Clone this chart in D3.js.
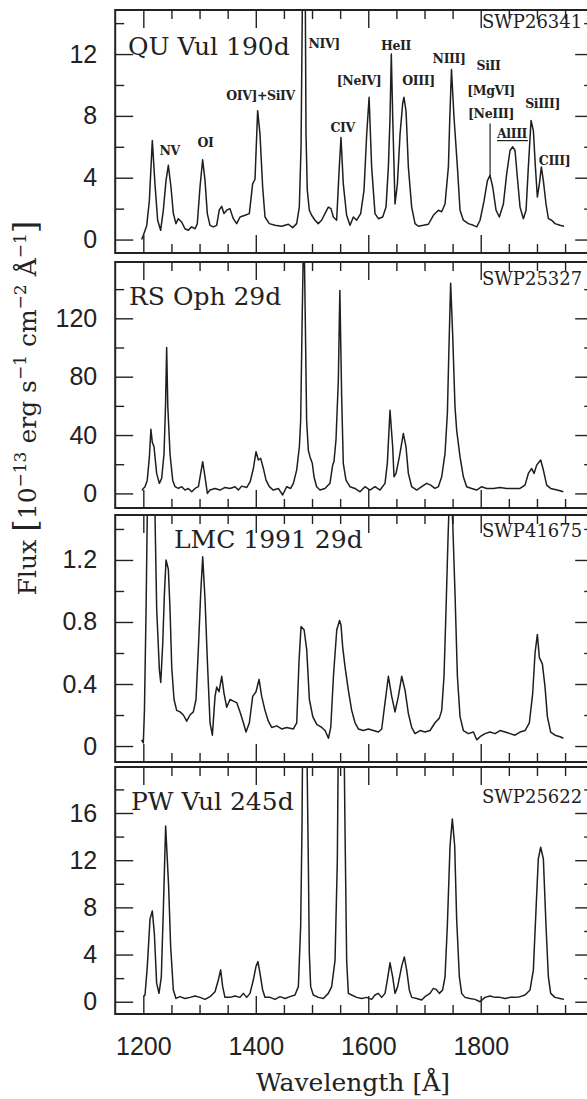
<!DOCTYPE html>
<html>
<head>
<meta charset="utf-8">
<script src="https://cdn.jsdelivr.net/npm/d3@7"></script>
<style>
  body { margin: 0; background: #fff; }
  .tick text { font-family: "Liberation Sans", Arial, sans-serif; font-size: 25px; fill: #222; }
  .tick line { stroke: #222; stroke-width: 1.4; }
</style>
</head>
<body>
<svg id="chart" width="587" height="1099"></svg>
<script>
/*global d3*/
// spectra, [wavelength (A), flux]
const quVul = [[1197,0.0],[1200,0.28],[1206,0.9],[1210.7,2.5],[1216,6.4],[1220.7,3.6],[1225.5,1.25],[1230.8,0.6],[1235.6,1.9],[1240.3,3.8],[1244.5,4.8],[1249.2,3.4],[1253.3,1.7],[1258,1.03],[1262.2,1.35],[1268,1.14],[1274,0.7],[1280,0.6],[1286,0.82],[1292,0.7],[1296,1.03],[1300.8,3.4],[1305.5,5.16],[1309.7,3.83],[1313.8,1.68],[1318.6,0.92],[1324.5,0.82],[1330.4,0.92],[1335,1.9],[1339.3,2.15],[1343.4,1.68],[1348.2,1.9],[1354,2.0],[1360,1.35],[1366,1.03],[1372,1.46],[1380.8,1.57],[1388.5,1.68],[1394.4,3.6],[1398.6,3.9],[1403.3,8.34],[1407.5,6.8],[1412.2,3.4],[1416.4,1.46],[1424,1.03],[1434,0.92],[1446,0.86],[1458,0.99],[1465.6,0.77],[1472.7,1.03],[1477.4,2.1],[1480.5,6],[1483,16],[1485.5,20],[1488,16],[1489.3,6.8],[1491.6,3.2],[1495.2,1.9],[1499.3,1.57],[1505.3,1.25],[1511,1.03],[1517,1.25],[1523,1.68],[1529,2.1],[1533.7,2.0],[1537.9,1.46],[1543.8,1.25],[1548.5,4.7],[1551.5,6.6],[1555.6,3.6],[1561.5,1.57],[1567.6,0.92],[1573.5,1.46],[1579.4,1.25],[1586.5,1.68],[1592.5,3.2],[1597.2,6.8],[1601.5,9.2],[1606,4.7],[1612,1.68],[1618,1.35],[1625.7,1.46],[1631.6,2.1],[1635.8,4.7],[1638.7,7.9],[1641,12.0],[1643.5,7.9],[1647.6,2.3],[1651.8,3.6],[1656.5,6.8],[1661.2,8.8],[1663.5,9.2],[1667.2,8.3],[1671.3,4.7],[1677.2,2.1],[1683.2,1.03],[1689.1,0.86],[1698,0.92],[1706.9,0.99],[1715.8,1.57],[1724.7,1.9],[1730.6,1.8],[1736.5,2.3],[1742.5,4.7],[1745,7.9],[1748,11.0],[1752.5,7.9],[1758.5,4.7],[1763.2,1.9],[1769.1,1.25],[1778,1.03],[1786.9,0.92],[1792.9,0.82],[1798.8,1.25],[1805.9,2.5],[1811.8,3.8],[1816.5,4.15],[1821.3,3.4],[1827.2,1.9],[1833.1,1.46],[1840.3,2.3],[1846.2,4.26],[1852.1,5.76],[1856.9,6.0],[1861,5.76],[1865.2,4.0],[1869.9,2.1],[1875.8,1.35],[1880.6,1.9],[1884.7,4.7],[1889.5,7.7],[1893.6,7.05],[1897.2,4.7],[1900.7,2.75],[1904.3,3.6],[1907.8,4.7],[1911.4,3.8],[1916.1,2.3],[1920.3,1.35],[1926.2,1.25],[1932.1,1.03],[1941,0.92],[1948.1,0.86]]

const rsOph = [[1198,2],[1200,3.4],[1203,4.6],[1207,9.1],[1210.8,25],[1213.5,44],[1216,35],[1219,32],[1223.7,13.7],[1228.5,6.9],[1232.6,10.3],[1236.8,27],[1239.5,60],[1241.5,100],[1243.5,60],[1247.5,27],[1252.2,9.1],[1256.4,4.6],[1262.3,3.4],[1268.3,4.6],[1274,2.3],[1280,3.4],[1286,1.1],[1292,3.4],[1298,4.6],[1302,13.7],[1305.6,21.7],[1309.7,11.4],[1313.9,0],[1318.6,2.3],[1327.5,3.4],[1336.4,2.3],[1345.3,4.1],[1354.2,3.4],[1363.1,4.6],[1369,2.3],[1375,5],[1384,4.1],[1390,8],[1395.7,17.1],[1400.4,28.6],[1404.6,22.9],[1408.7,24],[1413.5,17.1],[1418.2,9.1],[1424.1,4.6],[1431.2,2.3],[1440.1,3.4],[1447.8,-1.1],[1455,4.6],[1462,3.4],[1466.8,6.9],[1472.7,16],[1477.5,32],[1479.8,50],[1482.5,120],[1485.5,190],[1488,120],[1490.4,50],[1493.4,29.7],[1496.4,25],[1500.5,20.6],[1503.5,11.4],[1508.2,4.6],[1514.1,2.3],[1523,3.4],[1531.9,6.9],[1536.7,19.4],[1539,21.7],[1542.6,36.6],[1546.8,77.7],[1549.5,139],[1552.7,66],[1555.6,20.6],[1560.4,9.1],[1567.5,4.6],[1576.4,3.4],[1585.3,1.1],[1594.2,4.6],[1603.1,2.3],[1612,4.6],[1620.9,2.3],[1629.8,6.9],[1633.9,20.6],[1638.7,57],[1643.4,32],[1645.8,11.4],[1649.4,13.7],[1655.3,25],[1662.4,41],[1667.1,32],[1671.3,13.7],[1677.2,4.6],[1686.1,2.3],[1695,4.6],[1703.9,6.9],[1711,5.7],[1718.7,3.4],[1724.7,4.6],[1730.6,11.4],[1736.5,27.4],[1740.7,55],[1743.5,100],[1746.5,144],[1750,110],[1754.3,59],[1757.3,43],[1763.2,25],[1769.1,11.4],[1775,4.6],[1783.9,3.4],[1792.8,2.3],[1801.7,4.6],[1810.6,3.4],[1822.5,3.4],[1834.3,4.1],[1846.2,3.4],[1858,3.4],[1869.9,3.4],[1878.8,5.7],[1884.7,13.7],[1890.6,17.1],[1894.8,13.7],[1899.5,19.4],[1906.6,22.9],[1911.4,16],[1917.3,5.7],[1924.4,3.4],[1932.1,2.7],[1941,1.8],[1947,1.1]]

const lmc1991 = [[1197,0.04],[1200,0.02],[1202,0.23],[1204.9,0.88],[1207,1.48],[1210,2.2],[1215,2.5],[1219,2.0],[1220.9,1.46],[1223.8,0.88],[1228.6,0.49],[1231,0.41],[1234.5,0.66],[1237.5,0.98],[1240.4,1.2],[1244.5,1.14],[1247.5,0.88],[1250.5,0.51],[1254.6,0.30],[1259.3,0.23],[1265.3,0.22],[1271.2,0.2],[1277.1,0.16],[1283,0.2],[1288.9,0.22],[1293.7,0.30],[1297.8,0.62],[1302,0.98],[1305.6,1.22],[1309.8,0.94],[1313.9,0.55],[1318.6,0.15],[1322.8,0.07],[1327.5,0.32],[1330.5,0.38],[1334.6,0.35],[1339.4,0.45],[1343.5,0.34],[1348.3,0.25],[1354.2,0.30],[1360.1,0.29],[1366,0.28],[1372,0.22],[1377.9,0.15],[1382.6,0.09],[1388.6,0.15],[1394.5,0.32],[1400.4,0.35],[1405.8,0.43],[1410.5,0.32],[1416.4,0.23],[1422.3,0.16],[1428.3,0.12],[1437.2,0.13],[1446,0.11],[1455,0.12],[1466.8,0.11],[1472.8,0.15],[1476.9,0.55],[1480.5,0.77],[1485.9,0.75],[1490.6,0.62],[1495.3,0.30],[1501.3,0.19],[1508.4,0.14],[1517.3,0.12],[1523.2,0.10],[1529.2,0.05],[1533.3,0.12],[1538.1,0.45],[1544,0.75],[1549,0.81],[1551.5,0.78],[1554.5,0.64],[1558.7,0.51],[1564.6,0.36],[1570.5,0.23],[1576.5,0.15],[1582.4,0.11],[1591.3,0.10],[1600.2,0.11],[1609.1,0.10],[1618,0.09],[1623.9,0.11],[1629.8,0.28],[1635.8,0.45],[1641.7,0.32],[1647.6,0.22],[1653.5,0.32],[1659.5,0.45],[1665.4,0.36],[1671.3,0.21],[1677.2,0.12],[1683.2,0.08],[1692.1,0.10],[1701,0.09],[1709.9,0.10],[1718.7,0.15],[1726.4,0.18],[1730.6,0.23],[1734.7,0.45],[1738.3,0.88],[1741.9,1.35],[1746,1.8],[1750.2,1.44],[1754.3,0.98],[1758.5,0.45],[1763.2,0.19],[1769.1,0.10],[1778,0.08],[1787,0.09],[1792.9,0.04],[1798.8,0.06],[1807.6,0.08],[1816.5,0.09],[1825.4,0.08],[1834.3,0.10],[1843.2,0.09],[1852.1,0.08],[1861,0.07],[1869.9,0.09],[1878.8,0.10],[1886.5,0.15],[1892.4,0.34],[1896.6,0.60],[1900.7,0.72],[1904.3,0.57],[1909.6,0.53],[1914.4,0.38],[1918.5,0.19],[1924.4,0.09],[1932.1,0.07],[1941,0.06],[1947,0.05]]

const pwVul = [[1200,0.43],[1203,0.57],[1207.1,3.0],[1211.9,7.0],[1216,7.7],[1219.6,5.8],[1223.7,1.56],[1227.9,0.71],[1232,2.1],[1235.6,7.8],[1239.7,14.9],[1242.1,12.6],[1245,9.8],[1248.6,4.7],[1253.4,1.0],[1258.1,0.28],[1265.2,0.43],[1274.1,0.28],[1283,0.37],[1291.9,0.48],[1300.8,0.37],[1309.7,0.2],[1318.6,0.43],[1327.5,0.85],[1333.4,1.84],[1337.5,2.7],[1341.1,1.28],[1345.2,0.37],[1354.1,0.37],[1363,0.48],[1371.9,0.37],[1377.8,0.71],[1383.8,0.37],[1389.7,0.71],[1395.6,1.84],[1400.4,3.0],[1403.9,3.4],[1407.5,2.4],[1412.2,1.0],[1416.4,0.37],[1425.3,0.37],[1434.2,0.2],[1443.1,0.43],[1452,0.28],[1460.8,0.43],[1469.7,0.57],[1475.7,1.28],[1479.8,6.4],[1482.2,14.9],[1486,40],[1490,25],[1493.4,12],[1495.2,4.1],[1497.6,1.28],[1502.3,0.57],[1511.2,0.37],[1520.1,0.28],[1529,0.71],[1534.9,1.28],[1540.9,3.5],[1545,12],[1549,35],[1554,35],[1558.6,14.9],[1561.6,3.5],[1564.6,0.71],[1570.5,0.57],[1579.4,0.37],[1588.3,0.28],[1597.2,0.37],[1606,0.2],[1612,0.57],[1617.9,0.71],[1623.8,0.37],[1629.8,0.71],[1633.9,1.84],[1638.7,3.3],[1643.4,2.1],[1647.6,0.71],[1652.3,1.28],[1659.4,3.0],[1664.1,3.8],[1668.3,2.7],[1673,1.0],[1677.2,0.37],[1686.1,0.28],[1695,0.14],[1700.9,0.43],[1709.8,0.71],[1715.7,1.13],[1720.5,1.05],[1726.4,0.71],[1732.3,1.0],[1736.5,2.1],[1740.6,6.4],[1745.4,13.2],[1749.5,15.5],[1753.7,13.2],[1757.2,7.0],[1762,2.1],[1766.1,0.71],[1772,0.37],[1780.9,0.28],[1789.8,0.2],[1798.7,0],[1807.6,0.37],[1816.5,0.48],[1825.4,0.37],[1834.3,0.37],[1843.2,0.28],[1852.1,0.37],[1861,0.37],[1869.9,0.43],[1878.8,0.57],[1887.7,1.0],[1893.6,2.7],[1898.3,7.8],[1902.4,12.1],[1906.6,13.1],[1911.4,12.1],[1916.1,6.4],[1920.3,2.1],[1924.4,0.71],[1932.1,0.37],[1941,0.28],[1948.1,0.2]]

const novaNames = ["QU Vul 190d", "RS Oph 29d", "LMC 1991 29d", "PW Vul 245d"]
const swpIds = ["SWP26341", "SWP25327", "SWP41675", "SWP25622"]
const yDomains = [[-0.87, 14.85], [-10, 158.6], [-0.103, 1.49], [-1.04, 19.9]]
const yMajor = [[0, 4, 8, 12], [0, 40, 80, 120], [0, 0.4, 0.8, 1.2], [0, 4, 8, 12, 16]]
const yMinor = [[2, 6, 10, 14], [20, 60, 100, 140], [0.2, 0.6, 1.0, 1.4], [2, 6, 10, 14, 18]]
const xMajor = [1200, 1400, 1600, 1800]
const xMinor = [1250, 1300, 1350, 1450, 1500, 1550, 1650, 1700, 1750, 1850, 1900, 1950]

// line identifications in the top panel: [text, wavelength, flux]
const lineIds = [["NV", 1247, 5.47], ["OI", 1310.6, 6.0], ["OIV]+SiIV", 1408.4, 9.03], ["NIV]", 1521.4, 12.39],
  ["CIV", 1554.3, 6.98], ["[NeIV]", 1583.6, 9.99], ["HeII", 1649.4, 12.26], ["OIII]", 1689.4, 9.99],
  ["NIII]", 1743.7, 11.42], ["SiII", 1813.9, 10.97], ["[MgVI]", 1818.4, 9.35], ["[NeIII]", 1818.4, 7.86],
  ["SiIII]", 1910, 8.51], ["AlIII", 1855.7, 6.57], ["CIII]", 1931.3, 4.82]]

const spectra = [quVul, rsOph, lmc1991, pwVul]

//panel boxes, top and bottom
const panelBox = [[10, 253], [262, 508], [515, 762], [767, 1014]]
const nameXY = [[128, 55], [129, 305], [174, 548], [131, 810]]
const swpY = [28, 285, 537, 803]

const svg = d3.select("#chart")
const x = d3.scaleLinear().domain([1150, 2000]).range([115.2, 593.2])

const MAJ = 18, MIN = 9

spectra.forEach((spec, i) => {
  const [top, bot] = panelBox[i]
  const y = d3.scaleLinear().domain(yDomains[i]).range([bot, top])
  const g = svg.append("g")

  g.append("clipPath").attr("id", "clip" + i)
    .append("rect").attr("x", x.range()[0]).attr("y", top)
    .attr("width", x.range()[1] - x.range()[0]).attr("height", bot - top)

  // spectrum
  g.append("path")
    .datum(spec)
    .attr("clip-path", "url(#clip" + i + ")")
    .attr("fill", "none")
    .attr("stroke", "#1e1e1e")
    .attr("stroke-width", 1.5)
    .attr("stroke-linejoin", "round")
    .attr("d", d3.line().x(d => x(d[0])).y(d => y(d[1])))

  // x ticks, bottom and top
  const xb = g.append("g").attr("transform", `translate(0,${bot})`)
  xb.call(d3.axisBottom(x).tickValues(xMajor).tickSize(-MAJ).tickPadding(23.5)
    .tickFormat(i === 3 ? (d => d) : ""))
  xb.append("g").call(d3.axisBottom(x).tickValues(xMinor).tickSize(-MIN).tickFormat(""))
  const xt = g.append("g").attr("transform", `translate(0,${top})`)
  xt.call(d3.axisTop(x).tickValues(xMajor).tickSize(-MAJ).tickFormat(""))
  xt.append("g").call(d3.axisTop(x).tickValues(xMinor).tickSize(-MIN).tickFormat(""))

  // y ticks, left and right
  const yl = g.append("g").attr("transform", `translate(${x.range()[0]},0)`)
  yl.call(d3.axisLeft(y).tickValues(yMajor[i]).tickSize(-MAJ).tickPadding(18).tickFormat(d => d))
  yl.append("g").call(d3.axisLeft(y).tickValues(yMinor[i]).tickSize(-MIN).tickFormat(""))
  const yr = g.append("g").attr("transform", `translate(${x.range()[1]},0)`)
  yr.call(d3.axisRight(y).tickValues(yMajor[i]).tickSize(-MAJ).tickFormat(""))
  yr.append("g").call(d3.axisRight(y).tickValues(yMinor[i]).tickSize(-MIN).tickFormat(""))
  g.selectAll(".domain").remove()

  // frame
  g.append("rect")
    .attr("x", x.range()[0]).attr("y", top)
    .attr("width", x.range()[1] - x.range()[0]).attr("height", bot - top)
    .attr("fill", "none").attr("stroke", "#222").attr("stroke-width", 2)

  g.append("text")
    .attr("x", nameXY[i][0]).attr("y", nameXY[i][1])
    .attr("font-family", "DejaVu Serif").attr("font-size", 25).attr("fill", "#222")
    .text(novaNames[i])

  g.append("text")
    .attr("x", 482).attr("y", swpY[i])
    .attr("font-family", "DejaVu Serif").attr("font-size", 18).attr("fill", "#222")
    .text(swpIds[i])

  if (i === 0) {
    g.selectAll("text.lineid")
      .data(lineIds)
      .join("text")
      .attr("class", "lineid")
      .attr("x", d => x(d[1]))
      .attr("y", d => y(d[2]))
      .attr("text-anchor", "middle")
      .attr("font-family", "DejaVu Serif")
      .attr("font-weight", "bold")
      .attr("font-size", 12.5)
      .attr("letter-spacing", -0.4)
      .attr("fill", "#222")
      .text(d => d[0])
    // pointer to the SiII/[MgVI]/[NeIII] blend and AlIII underline
    g.append("line")
      .attr("x1", x(1816.6)).attr("x2", x(1816.6))
      .attr("y1", y(7.5)).attr("y2", y(4.1))
      .attr("stroke", "#222").attr("stroke-width", 1.2)
    g.append("line")
      .attr("x1", x(1829)).attr("x2", x(1884))
      .attr("y1", y(6.4)).attr("y2", y(6.4))
      .attr("stroke", "#222").attr("stroke-width", 1.2)
  }
})

// axis titles
svg.append("text")
  .attr("x", 353).attr("y", 1091)
  .attr("text-anchor", "middle")
  .attr("font-family", "DejaVu Serif").attr("font-size", 25).attr("fill", "#222")
  .text("Wavelength [Å]")

const yt = svg.append("text")
  .attr("transform", "translate(36,408) rotate(-90)")
  .attr("text-anchor", "middle")
  .attr("font-family", "DejaVu Serif").attr("font-size", 25).attr("fill", "#222")
yt.append("tspan").text("Flux ")
yt.append("tspan").attr("font-size", 32).text("[")
yt.append("tspan").text("10")
yt.append("tspan").attr("font-size", 17).attr("dy", -10).text("−13")
yt.append("tspan").attr("dy", 10).text(" erg s")
yt.append("tspan").attr("font-size", 17).attr("dy", -10).text("−1")
yt.append("tspan").attr("dy", 10).text(" cm")
yt.append("tspan").attr("font-size", 17).attr("dy", -10).text("−2")
yt.append("tspan").attr("dy", 10).text(" Å")
yt.append("tspan").attr("font-size", 17).attr("dy", -10).text("−1")
yt.append("tspan").attr("dy", 10).attr("font-size", 32).text("]")
</script>
</body>
</html>
